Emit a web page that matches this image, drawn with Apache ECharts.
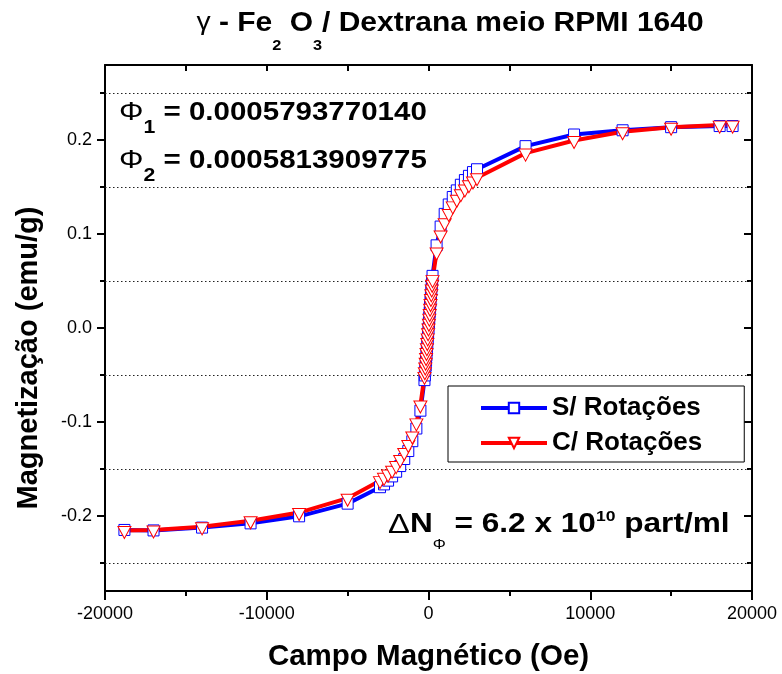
<!DOCTYPE html>
<html>
<head>
<meta charset="utf-8">
<script src="https://cdn.jsdelivr.net/npm/echarts@6/dist/echarts.min.js"></script>
<style>
  html, body { margin: 0; padding: 0; background: #fff; }
  #chart { width: 782px; height: 674px; }
</style>
</head>
<body>
<div id="chart"></div>
<script>
// Applied magnetic field (Oe) at each measured point
const campo = [
  -18800, -17000, -14000, -11000, -8000, -5000, -3000, -2750, -2500, -2250,
  -2000, -1750, -1500, -1250, -1000, -750, -500, -250, -225, -200,
  -175, -150, -125, -100, -75, -50, -25, 0, 25, 50,
  75, 100, 125, 150, 175, 200, 225, 250, 500, 750,
  1000, 1250, 1500, 1750, 2000, 2250, 2500, 2750, 3000, 6000,
  9000, 12000, 15000, 18000, 18800
];

// Magnetization (emu/g) without rotation
const magSemRotacao = [
  -0.2150, -0.2155, -0.2125, -0.2080, -0.2005, -0.1870, -0.1695, -0.1665, -0.1625, -0.1580,
  -0.1530, -0.1470, -0.1395, -0.1310, -0.1205, -0.1070, -0.0880, -0.0555, -0.0505, -0.0455,
  -0.0400, -0.0345, -0.0290, -0.0235, -0.0175, -0.0120, -0.0060, -0.0005, 0.0055, 0.0115,
  0.0170, 0.0230, 0.0285, 0.0345, 0.0400, 0.0450, 0.0505, 0.0555, 0.0880, 0.1080,
  0.1215, 0.1315, 0.1395, 0.1465, 0.1525, 0.1575, 0.1620, 0.1660, 0.1690, 0.1936,
  0.2060, 0.2105, 0.2138, 0.2150, 0.2150
];

// Magnetization (emu/g) with rotation
const magComRotacao = [
  -0.2155, -0.2150, -0.2117, -0.2053, -0.1965, -0.1812, -0.1625, -0.1590, -0.1555, -0.1515,
  -0.1465, -0.1400, -0.1325, -0.1240, -0.1150, -0.1010, -0.0820, -0.0515, -0.0465, -0.0415,
  -0.0365, -0.0315, -0.0260, -0.0210, -0.0155, -0.0105, -0.0050, 0.0000, 0.0050, 0.0105,
  0.0155, 0.0210, 0.0260, 0.0315, 0.0365, 0.0415, 0.0465, 0.0515, 0.0810, 0.0990,
  0.1120, 0.1220, 0.1300, 0.1370, 0.1430, 0.1480, 0.1525, 0.1565, 0.1600, 0.1862,
  0.1996, 0.2089, 0.2138, 0.2160, 0.2160
];

const serieNomes = ['S/ Rotações', 'C/ Rotações'];

// Axis ticks
const yLabelValues = [-0.2, -0.1, 0.0, 0.1, 0.2];
const yMinorValues = [-0.25, -0.15, -0.05, 0.05, 0.15, 0.25];
const xMin = -20000, xMax = 20000;
const yMin = -0.28, yMax = 0.28;

const FONT = '"Liberation Sans", Arial, Helvetica, sans-serif';
const AXIS_LINE = { show: true, onZero: false, lineStyle: { color: '#000', width: 2 } };
const TICK_STYLE = { color: '#000', width: 2 };

const pares = (xs, ys) => xs.map((x, i) => [x, ys[i]]);

const chart = echarts.init(document.getElementById('chart'), null, { renderer: 'canvas', width: 782, height: 674 });

const option = {
  animation: false,
  backgroundColor: '#fff',
  grid: { left: 105, right: 30, top: 65, bottom: 83, containLabel: false, outerBoundsMode: 'none' },
  xAxis: [
    {
      type: 'value', position: 'bottom', min: xMin, max: xMax, interval: 10000,
      axisLine: AXIS_LINE,
      axisTick: { show: true, inside: false, length: 9, lineStyle: TICK_STYLE },
      minorTick: { show: true, splitNumber: 2, length: 5, lineStyle: TICK_STYLE },
      axisLabel: { show: true, margin: 14, fontSize: 18, color: '#000', fontFamily: FONT, formatter: v => String(v) },
      splitLine: { show: false }, minorSplitLine: { show: false },
      name: 'Campo Magnético (Oe)', nameLocation: 'middle', nameGap: 51,
      nameTextStyle: { fontSize: 29.5, fontWeight: 'bold', color: '#000', fontFamily: FONT }
    },
    {
      type: 'value', position: 'top', min: xMin, max: xMax, interval: 5000,
      axisLine: AXIS_LINE,
      axisTick: { show: true, inside: true, length: 6, lineStyle: TICK_STYLE },
      axisLabel: { show: false }, splitLine: { show: false }
    }
  ],
  yAxis: [
    {
      type: 'value', position: 'left', min: yMin, max: yMax,
      axisLine: AXIS_LINE,
      axisTick: { show: true, inside: false, length: 8, lineStyle: TICK_STYLE, customValues: yLabelValues },
      axisLabel: {
        show: true, margin: 13, fontSize: 18, color: '#000', fontFamily: FONT,
        customValues: yLabelValues, formatter: v => v.toFixed(1)
      },
      splitLine: { show: false },
      name: 'Magnetização (emu/g)', nameLocation: 'middle', nameGap: 62, nameRotate: 90,
      nameTextStyle: { fontSize: 29, fontWeight: 'bold', color: '#000', fontFamily: FONT, padding: [0, 60, 0, 0] }
    },
    {
      type: 'value', position: 'left', min: yMin, max: yMax,
      axisLine: { show: false, onZero: false },
      axisTick: { show: true, inside: false, length: 5, lineStyle: TICK_STYLE, customValues: yMinorValues },
      axisLabel: { show: false }, splitLine: { show: false }
    },
    {
      type: 'value', position: 'right', min: yMin, max: yMax,
      axisLine: AXIS_LINE,
      axisTick: { show: true, inside: true, length: 8, lineStyle: TICK_STYLE, customValues: yLabelValues },
      axisLabel: { show: false }, splitLine: { show: false }
    },
    {
      type: 'value', position: 'right', min: yMin, max: yMax,
      axisLine: { show: false, onZero: false },
      axisTick: { show: true, inside: true, length: 5, lineStyle: TICK_STYLE, customValues: yMinorValues },
      axisLabel: { show: false }, splitLine: { show: false }
    }
  ],
  legend: {
    data: serieNomes,
    orient: 'vertical',
    left: 448, top: 386,
    padding: [7, 42, 4, 31],
    itemGap: 5,
    itemWidth: 66, itemHeight: 13,
    backgroundColor: '#fff',
    borderColor: '#000', borderWidth: 1,
    selectedMode: false,
    lineStyle: { width: 4 },
    textStyle: { fontSize: 26, fontWeight: 'bold', color: '#000', fontFamily: FONT, lineHeight: 30 }
  },
  series: [
    {
      name: 'grade', type: 'line', data: [], silent: true,
      xAxisIndex: 0, yAxisIndex: 0,
      markLine: {
        silent: true, z: 1, animation: false,
        symbol: ['none', 'none'],
        label: { show: false },
        lineStyle: { color: '#222', width: 1, type: [1.5, 2.5] },
        emphasis: { disabled: true },
        data: yMinorValues.map(v => ({ yAxis: v }))
      }
    },
    {
      name: serieNomes[0], type: 'line',
      xAxisIndex: 0, yAxisIndex: 0,
      data: pares(campo, magSemRotacao),
      symbol: 'rect', symbolSize: 11, showAllSymbol: true,
      lineStyle: { color: '#0000ff', width: 4 },
      itemStyle: { color: '#ffffff', borderColor: '#0000ff', borderWidth: 1 },
      emphasis: { disabled: true }
    },
    {
      name: serieNomes[1], type: 'line',
      xAxisIndex: 0, yAxisIndex: 0,
      data: pares(campo, magComRotacao),
      symbol: 'triangle', symbolRotate: 180, symbolSize: [13, 12], symbolOffset: [0, 2],
      showAllSymbol: true,
      lineStyle: { color: '#ff0000', width: 4 },
      itemStyle: { color: '#ffffff', borderColor: '#ff0000', borderWidth: 1 },
      emphasis: { disabled: true }
    }
  ],
  graphic: [
    {
      type: 'text', x: 450, y: 23, scaleX: 1.09, silent: true,
      style: {
        text: '{g|γ}{m| - Fe}{s|2}{m| O}{s|3}{m|/ Dextrana meio RPMI 1640}',
        align: 'center', verticalAlign: 'middle',
        rich: {
          g: { fontFamily: FONT, fontSize: 26, fontWeight: 'normal', fill: '#000' },
          m: { fontFamily: FONT, fontSize: 27.5, fontWeight: 'bold', fill: '#000' },
          s: { fontFamily: FONT, fontSize: 15, fontWeight: 'bold', fill: '#000', padding: [46, 0, 0, 0] }
        }
      }
    },
    {
      type: 'text', x: 119, y: 113, scaleX: 1.18, silent: true,
      style: {
        text: '{p|Φ}{s|1}{m| = 0.0005793770140}',
        align: 'left', verticalAlign: 'middle',
        rich: {
          p: { fontFamily: FONT, fontSize: 26, fontWeight: 'normal', fill: '#000' },
          m: { fontFamily: FONT, fontSize: 25, fontWeight: 'bold', fill: '#000' },
          s: { fontFamily: FONT, fontSize: 18, fontWeight: 'bold', fill: '#000', padding: [30, 0, 0, 0] }
        }
      }
    },
    {
      type: 'text', x: 119, y: 161, scaleX: 1.18, silent: true,
      style: {
        text: '{p|Φ}{s|2}{m| = 0.0005813909775}',
        align: 'left', verticalAlign: 'middle',
        rich: {
          p: { fontFamily: FONT, fontSize: 26, fontWeight: 'normal', fill: '#000' },
          m: { fontFamily: FONT, fontSize: 25, fontWeight: 'bold', fill: '#000' },
          s: { fontFamily: FONT, fontSize: 18, fontWeight: 'bold', fill: '#000', padding: [30, 0, 0, 0] }
        }
      }
    },
    {
      type: 'text', x: 388, y: 525, scaleX: 1.17, silent: true,
      style: {
        text: '{d|Δ}{m|N}{s|Φ}{m| = 6.2 x 10}{u|10}{m| part/ml}',
        align: 'left', verticalAlign: 'middle',
        rich: {
          d: { fontFamily: FONT, fontSize: 28, fontWeight: 'normal', fill: '#000' },
          m: { fontFamily: FONT, fontSize: 27, fontWeight: 'bold', fill: '#000' },
          s: { fontFamily: FONT, fontSize: 14, fontWeight: 'normal', fill: '#000', padding: [40, 0, 0, 0] },
          u: { fontFamily: FONT, fontSize: 15, fontWeight: 'bold', fill: '#000', padding: [0, 0, 16, 0] }
        }
      }
    }
  ]
};

chart.setOption(option);
</script>
</body>
</html>
